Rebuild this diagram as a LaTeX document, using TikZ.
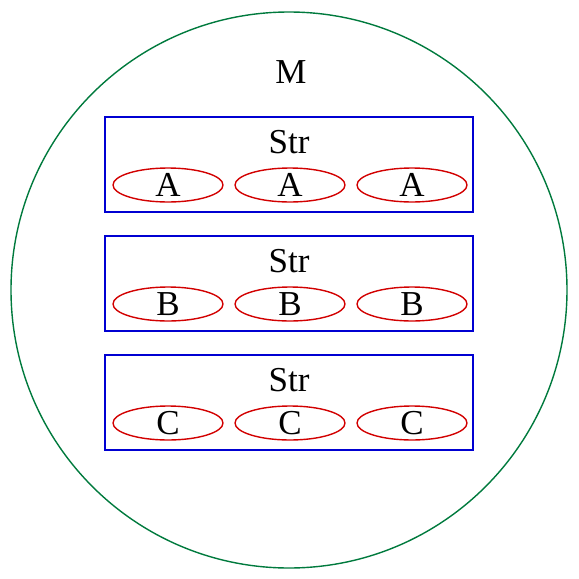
\documentclass[tikz,border=0pt]{standalone}
\usepackage{fontspec}
\setmainfont{Liberation Serif}
\usetikzlibrary{shapes.geometric,positioning}
\definecolor{ModGreen}{RGB}{0,122,61}
\definecolor{StrBlue}{RGB}{0,0,210}
\definecolor{ElemRed}{RGB}{210,0,0}

\begin{document}
\begin{tikzpicture}[x=1pt,y=-1pt,
    lbl/.style={font=\fontsize{35}{37}\selectfont,inner sep=0pt},
    strbox/.style={draw=StrBlue,line width=1.4pt,minimum width=368pt,minimum height=95pt,inner sep=0pt},
    elem/.style={ellipse,draw=ElemRed,line width=1.4pt,minimum width=110pt,minimum height=34pt,inner sep=0pt,lbl}]
  \useasboundingbox (0,0) rectangle (579,579);
  \node[circle,draw=ModGreen,line width=1.4pt,minimum size=556pt,inner sep=0pt] (m) at (289,290) {};
  \node[lbl,anchor=base] (mlbl) at (291,83) {M};
  % one box per string
  \foreach \s/\y in {A/164.5,B/283.5,C/402.5}{
    \node[strbox] (str\s) at (289,\y) {};
    \node[lbl,below=14pt of str\s.north] (str\s lbl) {Str};
    \foreach \x/\k in {168/1,290/2,412/3}
      \node[elem] (\s\k) at (\x,\y+20.5) {\s};
  }
\end{tikzpicture}
\end{document}
